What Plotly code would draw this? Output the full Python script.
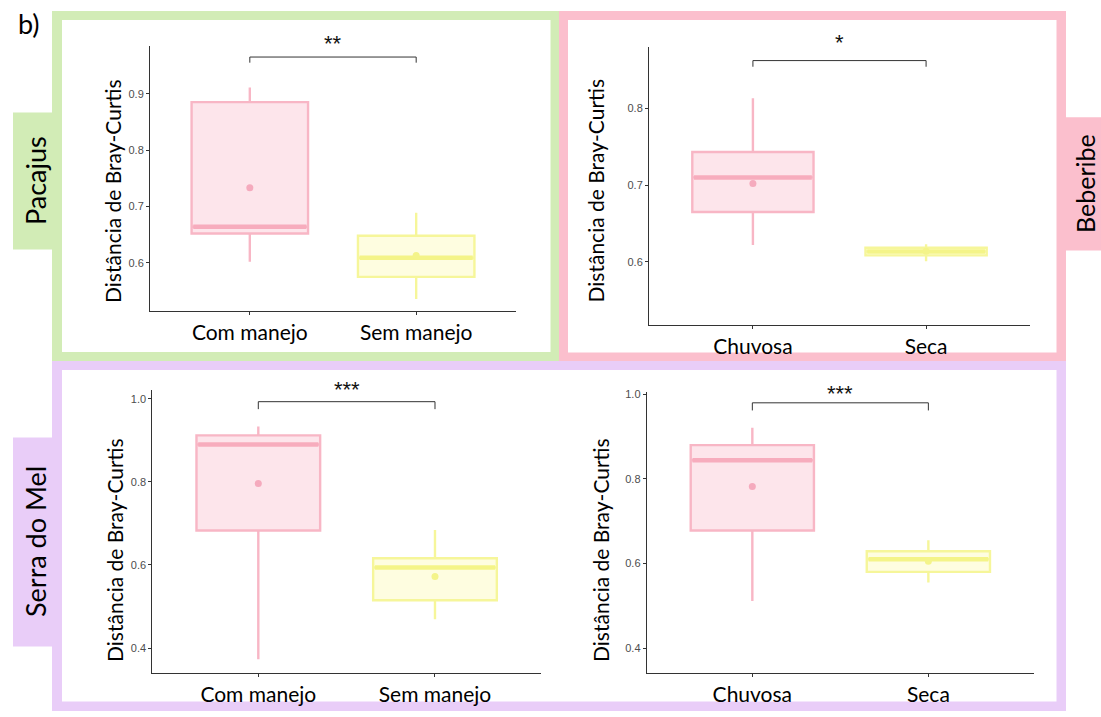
import plotly.graph_objects as go

W, H = 1101, 717

# ---- data -------------------------------------------------------------
cat_manejo = ["Com manejo", "Sem manejo"]
cat_estacao = ["Chuvosa", "Seca"]

# Pacajus (manejo)
pac_q1 = [0.652, 0.575]
pac_median = [0.664, 0.609]
pac_q3 = [0.885, 0.648]
pac_lower = [0.602, 0.536]
pac_upper = [0.911, 0.689]
pac_mean = [0.733, 0.613]

# Beberibe (estação)
beb_q1 = [0.665, 0.6085]
beb_median = [0.710, 0.6135]
beb_q3 = [0.743, 0.6185]
beb_lower = [0.622, 0.601]
beb_upper = [0.813, 0.623]
beb_mean = [0.702, 0.614]

# Serra do Mel (manejo)
smm_q1 = [0.683, 0.515]
smm_median = [0.890, 0.594]
smm_q3 = [0.912, 0.616]
smm_lower = [0.373, 0.469]
smm_upper = [0.933, 0.684]
smm_mean = [0.796, 0.572]

# Serra do Mel (estação)
sme_q1 = [0.678, 0.580]
sme_median = [0.844, 0.610]
sme_q3 = [0.880, 0.629]
sme_lower = [0.511, 0.555]
sme_upper = [0.921, 0.655]
sme_mean = [0.782, 0.605]

signif = ["**", "*", "***", "***"]
bracket_top = [0.965, 0.862, 0.993, 0.980]
bracket_foot = [0.955, 0.854, 0.975, 0.962]

y_ranges = [[0.514, 0.985], [0.518, 0.880], [0.340, 1.0215], [0.341, 1.006]]
y_ticks = [[0.6, 0.7, 0.8, 0.9], [0.6, 0.7, 0.8], [0.4, 0.6, 0.8, 1.0], [0.4, 0.6, 0.8, 1.0]]

# ---- styling ----------------------------------------------------------
PINK_LINE, PINK_FILL, PINK_MED, PINK_DOT = "#f8b6c5", "#fde5eb", "#f7acbd", "#f5aabd"
YEL_LINE, YEL_FILL, YEL_MED, YEL_DOT = "#f6f69a", "#fefde0", "#f4f488", "#f4f48a"
GREEN, ROSE, LILAC = "#d2ecb6", "#fbbfcd", "#e9cdf8"
AXIS = "#333333"
TEXT_FONT = "Lato"
STAR_LIFT = [14, 18, 12, 9]   # pixel gap between bracket and its stars


def px(x):
    return x / W


def py(y):
    return 1 - y / H


# plot areas in pixels: (x0, x1, ytop, ybottom)
areas = [(150, 516, 42, 309), (649, 1030, 43, 322.7),
         (152.3, 541, 388, 672.7), (646.7, 1034, 390, 672.7)]

panels = [
    (cat_manejo, pac_q1, pac_median, pac_q3, pac_lower, pac_upper, pac_mean),
    (cat_estacao, beb_q1, beb_median, beb_q3, beb_lower, beb_upper, beb_mean),
    (cat_manejo, smm_q1, smm_median, smm_q3, smm_lower, smm_upper, smm_mean),
    (cat_estacao, sme_q1, sme_median, sme_q3, sme_lower, sme_upper, sme_mean),
]

fig = go.Figure()
layout = {}
annotations = []
BOX_W = 0.7

for k, (cats, q1, med, q3, lo, hi, mean) in enumerate(panels):
    n = "" if k == 0 else str(k + 1)
    xa, ya = "x" + n, "y" + n
    styles = [(PINK_LINE, PINK_FILL, PINK_MED), (YEL_LINE, YEL_FILL, YEL_MED)]
    for i in range(2):
        lc, fc, mc = styles[i]
        fig.add_trace(go.Box(
            x=[i], q1=[q1[i]], median=[med[i]], q3=[q3[i]],
            lowerfence=[lo[i]], upperfence=[hi[i]],
            width=BOX_W, whiskerwidth=0, boxpoints=False,
            line=dict(color=lc, width=2.4), fillcolor=fc,
            xaxis=xa, yaxis=ya, showlegend=False, hoverinfo="skip"))
        # thicker median bar
        fig.add_trace(go.Scatter(
            x=[i - BOX_W / 2 + 0.01, i + BOX_W / 2 - 0.01], y=[med[i], med[i]],
            mode="lines", line=dict(color=mc, width=4.5),
            xaxis=xa, yaxis=ya, showlegend=False, hoverinfo="skip"))
    # group means
    fig.add_trace(go.Scatter(
        x=[0, 1], y=mean, mode="markers",
        marker=dict(color=[PINK_DOT, YEL_DOT], size=7),
        xaxis=xa, yaxis=ya, showlegend=False, hoverinfo="skip"))
    # significance bracket
    fig.add_trace(go.Scatter(
        x=[0, 0, 1, 1], y=[bracket_foot[k], bracket_top[k], bracket_top[k], bracket_foot[k]],
        mode="lines", line=dict(color=AXIS, width=1), cliponaxis=False,
        xaxis=xa, yaxis=ya, showlegend=False, hoverinfo="skip"))
    annotations.append(dict(
        x=0.5, y=bracket_top[k], xref=xa, yref=ya, text=signif[k], showarrow=False,
        yanchor="middle", yshift=STAR_LIFT[k],
        font=dict(family="Liberation Sans", size=22, color="#111111")))

    x0, x1, yt, yb = areas[k]
    layout["xaxis" + n] = dict(
        domain=[px(x0), px(x1)], anchor=ya, range=[-0.6, 1.6],
        tickvals=[0, 1], ticktext=cats, showline=True, linecolor=AXIS, linewidth=1,
        ticks="outside", ticklen=3, tickcolor=AXIS, showgrid=False, zeroline=False,
        tickfont=dict(family=TEXT_FONT, size=21, color="#000000"), fixedrange=True)
    layout["yaxis" + n] = dict(
        domain=[py(yb), py(yt)], anchor=xa, range=y_ranges[k],
        tickvals=y_ticks[k], tickformat=".1f", showline=True, linecolor=AXIS,
        linewidth=1, ticks="outside", ticklen=3, tickcolor=AXIS, showgrid=False,
        zeroline=False, tickfont=dict(family="Liberation Sans", size=11, color="#4d4d4d"),
        fixedrange=True)

# y-axis titles
for (cx, cy) in [(112.5, 188.5), (595, 187.5), (115, 549), (601, 549)]:
    annotations.append(dict(
        x=px(cx), y=py(cy), xref="paper", yref="paper", text="Distância de Bray-Curtis",
        textangle=-90, showarrow=False, xanchor="center", yanchor="middle",
        font=dict(family=TEXT_FONT, size=21, color="#000000")))

# site labels
for (txt, cx, cy, fs) in [("Pacajus", 35, 178, 27), ("Beberibe", 1085, 181, 25),
                          ("Serra do Mel", 36, 541, 27)]:
    annotations.append(dict(
        x=px(cx), y=py(cy), xref="paper", yref="paper", text=txt, textangle=-90,
        showarrow=False, xanchor="center", yanchor="middle",
        font=dict(family=TEXT_FONT, size=fs, color="#000000")))

annotations.append(dict(
    x=px(29), y=py(20), xref="paper", yref="paper", text="b)", showarrow=False,
    xanchor="center", yanchor="middle", font=dict(family=TEXT_FONT, size=27, color="#000000")))

# coloured frames and label tabs
shapes = []


def rect(x0, y0, x1, y1, color):
    shapes.append(dict(type="rect", xref="paper", yref="paper", x0=px(x0), x1=px(x1),
                       y0=py(y1), y1=py(y0), fillcolor=color, line=dict(width=0),
                       layer="below"))


rect(52, 7, 559, 359, GREEN)
rect(62, 16, 550.5, 350, "#ffffff")
rect(559, 7, 1066, 359, ROSE)
rect(568, 16, 1056.5, 350.5, "#ffffff")
rect(52, 359, 1066, 711, LILAC)
rect(62, 368, 1056.5, 701.5, "#ffffff")
rect(13, 109, 52, 247, GREEN)
rect(1066, 114, 1101, 248, ROSE)
rect(13, 436, 52, 646, LILAC)

fig.update_layout(
    width=W, height=H, margin=dict(l=0, r=0, t=0, b=0),
    paper_bgcolor="#ffffff", plot_bgcolor="rgba(0,0,0,0)",
    showlegend=False, annotations=annotations, shapes=shapes, **layout)

fig.write_html("out.html")
